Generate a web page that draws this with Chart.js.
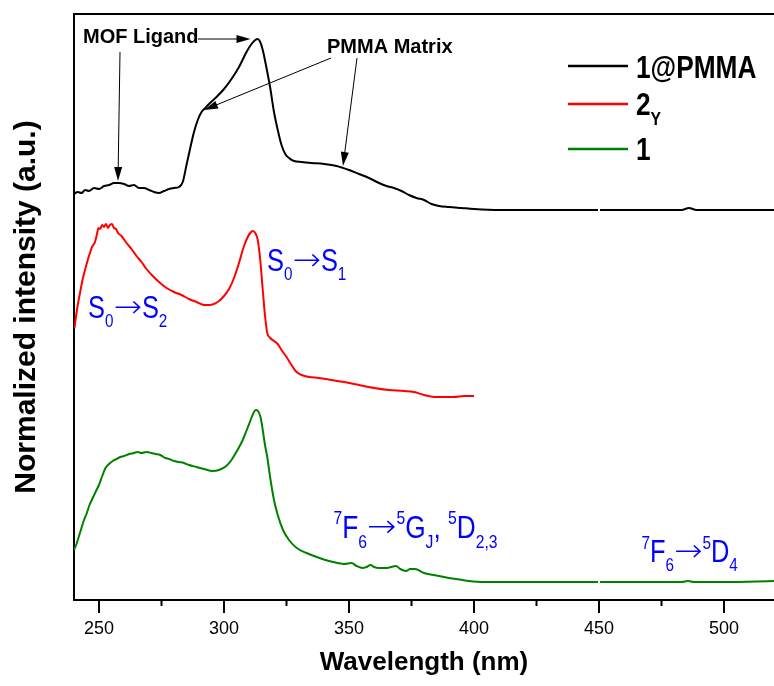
<!DOCTYPE html>
<html>
<head>
<meta charset="utf-8">
<script src="https://cdn.jsdelivr.net/npm/chart.js@4.4.0/dist/chart.umd.min.js"></script>
<style>
  body { margin: 0; background: #fff; }
  canvas { display: block; }
</style>
</head>
<body>
<canvas id="chart" width="774" height="686"></canvas>
<script>
// x in nm, y in arbitrary (offset) intensity units
const pmmaX = [240, 241.5, 243, 244.5, 246, 248, 250, 252, 254, 256, 258, 260, 262, 264, 266, 268, 270, 272, 274, 276, 278, 280, 282, 283.5, 285, 286.5, 288, 289.5, 291, 292.5, 294, 297, 300, 303, 306, 309, 311, 312.5, 313.5, 314.5, 315.5, 317, 318.5, 320, 321.5, 323, 324.5, 326, 328, 331, 335, 340, 345, 350, 354, 358, 362, 365, 368, 371, 374, 377, 380, 383, 386, 390, 395, 400, 410, 420, 435, 449.6, 450, 450.4, 470, 483, 486, 489, 500, 510, 520];
const pmmaY = [4.06, 4.08, 4.07, 4.10, 4.09, 4.12, 4.11, 4.14, 4.15, 4.17, 4.17, 4.16, 4.14, 4.15, 4.12, 4.12, 4.10, 4.08, 4.07, 4.09, 4.11, 4.12, 4.13, 4.18, 4.35, 4.52, 4.68, 4.80, 4.88, 4.92, 4.96, 5.03, 5.11, 5.21, 5.33, 5.48, 5.56, 5.60, 5.61, 5.58, 5.50, 5.32, 5.12, 4.88, 4.70, 4.55, 4.46, 4.42, 4.39, 4.38, 4.37, 4.36, 4.34, 4.30, 4.26, 4.22, 4.17, 4.14, 4.12, 4.09, 4.05, 4.02, 4.00, 3.96, 3.94, 3.93, 3.92, 3.91, 3.90, 3.90, 3.90, 3.90, null, 3.90, 3.90, 3.90, 3.92, 3.90, 3.90, 3.90, 3.90];

const twoYX = [240.2, 240.6, 241.5, 242.4, 243.4, 244.4, 245.5, 246.5, 247.2, 248.4, 249.2, 249.8, 250.5, 251.2, 252, 252.8, 253.6, 254.4, 255.2, 256, 256.8, 257.6, 259, 261, 263, 265, 267, 269, 271.5, 274, 277, 280, 283, 286, 289, 292, 294, 296, 298, 300, 302, 304, 306, 308, 309.5, 310.5, 311.5, 312.5, 313.5, 314.5, 315.5, 316.5, 317.3, 318.5, 320, 321.5, 323, 325, 327, 329, 331, 334, 338, 343, 348, 354, 360, 366, 372, 376, 380, 384, 388, 392, 396, 400];
const twoYY = [2.72, 2.80, 2.95, 3.07, 3.20, 3.30, 3.40, 3.48, 3.53, 3.58, 3.66, 3.72, 3.71, 3.75, 3.73, 3.76, 3.72, 3.75, 3.76, 3.72, 3.71, 3.67, 3.64, 3.57, 3.51, 3.44, 3.38, 3.31, 3.24, 3.18, 3.12, 3.08, 3.05, 3.01, 2.98, 2.95, 2.95, 2.96, 2.99, 3.04, 3.11, 3.22, 3.37, 3.54, 3.63, 3.67, 3.69, 3.67, 3.60, 3.40, 3.10, 2.82, 2.67, 2.62, 2.59, 2.56, 2.50, 2.43, 2.35, 2.28, 2.25, 2.23, 2.22, 2.20, 2.18, 2.15, 2.12, 2.10, 2.09, 2.08, 2.05, 2.03, 2.03, 2.03, 2.04, 2.04];

const oneX = [240, 241, 242, 243, 244, 245, 246.2, 247.5, 248.8, 250, 251.3, 252.6, 254, 255.5, 257, 258.5, 260, 262, 264, 265.5, 267, 269, 271, 272.6, 274.5, 276.5, 278, 280, 282, 284, 286, 289, 292, 295.4, 298, 300.9, 303, 305.4, 307.5, 309.1, 310.5, 311.8, 312.7, 313.6, 314.6, 315.5, 316.4, 317.3, 318.5, 320, 321.5, 323.6, 326, 329.1, 333, 338.2, 342, 345.5, 348, 351, 353, 355.5, 357, 358.6, 360, 361.9, 365, 368.8, 370.5, 372.8, 374.5, 376.4, 380, 383.8, 388, 392.8, 398, 403.8, 420, 440, 449.6, 450, 450.4, 470, 483, 485.6, 488, 500, 520];
const oneY = [0.50, 0.56, 0.64, 0.72, 0.80, 0.86, 0.95, 1.02, 1.09, 1.15, 1.24, 1.32, 1.36, 1.39, 1.41, 1.43, 1.44, 1.46, 1.47, 1.48, 1.47, 1.48, 1.47, 1.46, 1.45, 1.42, 1.41, 1.39, 1.38, 1.37, 1.35, 1.33, 1.31, 1.29, 1.30, 1.34, 1.40, 1.50, 1.60, 1.70, 1.79, 1.87, 1.90, 1.89, 1.83, 1.70, 1.55, 1.43, 1.22, 1.00, 0.85, 0.70, 0.60, 0.52, 0.47, 0.42, 0.39, 0.37, 0.36, 0.37, 0.34, 0.32, 0.33, 0.35, 0.33, 0.32, 0.32, 0.34, 0.31, 0.29, 0.31, 0.31, 0.27, 0.25, 0.23, 0.21, 0.19, 0.18, 0.18, 0.18, 0.18, null, 0.18, 0.18, 0.18, 0.19, 0.18, 0.18, 0.19];

const majorTicks = [250, 300, 350, 400, 450, 500];
const minorTicks = [275, 325, 375, 425, 475];

// annotation anchors, in data units [nm, a.u.]
const arrows = [
  [258.4, 5.48, 257.6, 4.19],
  [289.6, 5.61, 310.6, 5.61],
  [342.8, 5.42, 292.0, 4.90],
  [353.2, 5.42, 347.6, 4.34]
];

function hasFont(name) {
  const c = document.createElement('canvas').getContext('2d');
  c.font = '40px monospace';
  const a = c.measureText('1@PMMA 250').width;
  c.font = `40px "${name}", monospace`;
  return c.measureText('1@PMMA 250').width !== a;
}
const NARROW = hasFont('Liberation Sans Narrow');
const NFAM = NARROW ? '"Liberation Sans Narrow"' : '"Liberation Sans", Arial';
const NSX = NARROW ? 1 : 0.82;
const FAM = '"Liberation Sans", Arial, sans-serif';
const ARROW = '\u2192';

// parts: [text, mode] with mode 0 normal, 1 subscript, 2 superscript
function drawRich(ctx, x, y, parts, size, color, bold) {
  ctx.save();
  ctx.translate(x, y);
  ctx.scale(NSX, 1);
  ctx.fillStyle = color;
  ctx.textBaseline = 'alphabetic';
  ctx.textAlign = 'left';
  let cx = 0;
  parts.forEach(([t, m]) => {
    const fs = m ? size * 0.6 : size;
    const dy = m === 1 ? size * 0.3 : m === 2 ? -size * 0.43 : 0;
    if (t === ARROW) {
      // long thin arrow like the original figure
      ctx.font = `200 ${fs}px "DejaVu Sans"`;
      const w = ctx.measureText(t).width, target = size * 1.12;
      ctx.save();
      ctx.translate(cx, -size * 0.02);
      ctx.scale(target / w, 1);
      ctx.fillText(t, 0, 0);
      ctx.restore();
      cx += target;
      return;
    }
    ctx.font = `${bold ? 'bold ' : ''}${fs}px ${NFAM}`;
    ctx.fillText(t, cx, dy);
    cx += ctx.measureText(t).width;
  });
  ctx.restore();
}

function arrow(ctx, x1, y1, x2, y2) {
  const a = Math.atan2(y2 - y1, x2 - x1), L = 14, W = 4;
  const c = Math.cos(a), s = Math.sin(a);
  ctx.beginPath();
  ctx.moveTo(x1, y1);
  ctx.lineTo(x2 - L * c * 0.7, y2 - L * s * 0.7);
  ctx.stroke();
  ctx.beginPath();
  ctx.moveTo(x2, y2);
  ctx.lineTo(x2 - L * c + W * s, y2 - L * s - W * c);
  ctx.lineTo(x2 - L * c - W * s, y2 - L * s + W * c);
  ctx.closePath();
  ctx.fill();
}

const decor = {
  id: 'decor',
  afterDatasetsDraw(chart) {
    const { ctx, scales: { x, y } } = chart;
    const px = v => x.getPixelForValue(v), py = v => y.getPixelForValue(v);
    ctx.save();
    // minor ticks
    ctx.strokeStyle = '#000';
    ctx.lineWidth = 2;
    minorTicks.forEach(v => {
      ctx.beginPath();
      ctx.moveTo(px(v), y.bottom);
      ctx.lineTo(px(v), y.bottom + 6);
      ctx.stroke();
    });
    // arrows
    ctx.lineWidth = 1;
    ctx.fillStyle = '#000';
    arrows.forEach(a => arrow(ctx, px(a[0]), py(a[1]), px(a[2]), py(a[3])));
    ctx.font = `bold 20px ${FAM}`;
    ctx.textBaseline = 'alphabetic';
    ctx.fillText('MOF Ligand', px(243.6), py(5.57));
    ctx.fillText('PMMA Matrix', px(341.2), py(5.47));

    const blue = '#0000ff';
    drawRich(ctx, px(245.6), py(2.82), [['S', 0], ['0', 1], [ARROW, 0], ['S', 0], ['2', 1]], 31, blue);
    drawRich(ctx, px(317.2), py(3.29), [['S', 0], ['0', 1], [ARROW, 0], ['S', 0], ['1', 1]], 31, blue);
    drawRich(ctx, px(343.8), py(0.62), [['7', 2], ['F', 0], ['6', 1], [ARROW, 0], ['5', 2], ['G', 0], ['J', 1], [', ', 0], ['5', 2], ['D', 0], ['2,3', 1]], 32, blue);
    drawRich(ctx, px(467.0), py(0.38), [['7', 2], ['F', 0], ['6', 1], [ARROW, 0], ['5', 2], ['D', 0], ['4', 1]], 31, blue);

    // legend
    const leg = [['#000', 66, [['1@PMMA', 0]], 78], ['#ff0000', 104, [['2', 0], ['Y', 1]], 115], ['#008000', 149, [['1', 0]], 160]];
    leg.forEach(([col, ly, parts, by]) => {
      ctx.strokeStyle = col;
      ctx.lineWidth = 2.5;
      ctx.beginPath();
      ctx.moveTo(568, ly);
      ctx.lineTo(628, ly);
      ctx.stroke();
      drawRich(ctx, 636, by, parts, 32, '#000', true);
    });
    ctx.restore();
  }
};

function pts(xs, ys) {
  return xs.map((v, i) => ({ x: v, y: ys[i] }));
}

new Chart(document.getElementById('chart'), {
  type: 'line',
  data: {
    datasets: [
      { label: '1@PMMA', data: pts(pmmaX, pmmaY), borderColor: '#000000', borderWidth: 2 },
      { label: '2Y', data: pts(twoYX, twoYY), borderColor: '#ff0000', borderWidth: 2 },
      { label: '1', data: pts(oneX, oneY), borderColor: '#008000', borderWidth: 2 }
    ]
  },
  options: {
    responsive: false,
    animation: false,
    devicePixelRatio: 1,
    spanGaps: false,
    elements: { point: { radius: 0 }, line: { cubicInterpolationMode: 'monotone' } },
    layout: { padding: 0 },
    plugins: { legend: { display: false }, tooltip: { enabled: false } },
    scales: {
      x: {
        type: 'linear',
        position: 'bottom',
        min: 240,
        max: 520,
        afterBuildTicks: s => { s.ticks = majorTicks.map(v => ({ value: v })); },
        afterFit: s => { s.height = 86; },
        ticks: { color: '#000', padding: 5, maxRotation: 0, font: { family: NFAM, size: NARROW ? 22 : 18 } },
        grid: { drawOnChartArea: false, drawTicks: true, tickLength: 13, color: '#000', lineWidth: 2 },
        border: { display: true, color: '#000', width: 2 },
        title: { display: true, text: 'Wavelength (nm)', color: '#000', padding: { bottom: 8 }, font: { family: FAM, size: 26, weight: 'bold' } }
      },
      x2: {
        type: 'linear',
        position: 'top',
        min: 240,
        max: 520,
        afterFit: s => { s.height = 14; },
        ticks: { display: false },
        grid: { display: false },
        border: { display: true, color: '#000', width: 2 }
      },
      y: {
        min: 0,
        max: 5.86,
        afterFit: s => { s.width = 74; },
        ticks: { display: false },
        grid: { display: false, drawTicks: false },
        border: { display: true, color: '#000', width: 2 },
        title: { display: true, text: 'Normalized intensity (a.u.)', color: '#000', padding: { top: 9 }, font: { family: FAM, size: 30, weight: 'bold' } }
      }
    }
  },
  plugins: [decor]
});
</script>
</body>
</html>
